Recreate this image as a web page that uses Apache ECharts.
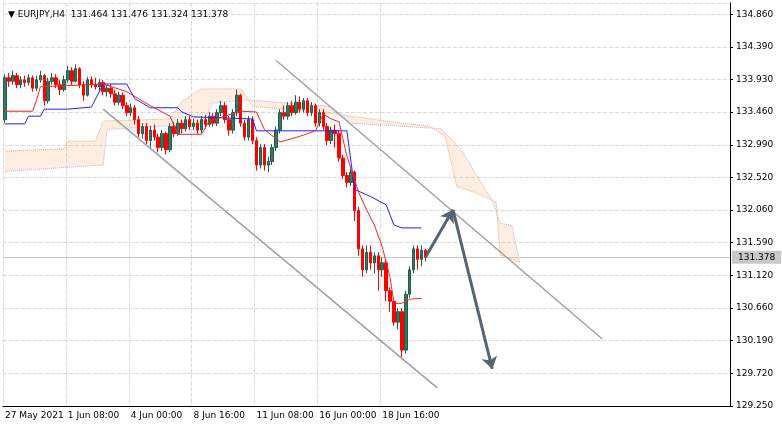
<!DOCTYPE html>
<html><head><meta charset="utf-8">
<script src="https://cdn.jsdelivr.net/npm/echarts@6/dist/echarts.min.js"></script>
<style>html,body{margin:0;padding:0;background:#fff}#c{width:782px;height:428px}</style>
</head><body><div id="c"></div>
<script>
const yTickLabels=['129.250','129.720','130.190','130.660','131.120','131.590','132.060','132.520','132.990','133.460','133.930','134.390','134.860'];
const xTickLabels={0:'27 May 2021',16:'1 Jun 08:00',32:'4 Jun 00:00',48:'8 Jun 16:00',64:'11 Jun 08:00',80:'16 Jun 00:00',96:'18 Jun 16:00'};
const candles=[
[133.35,133.95,133.30,134.00],[133.95,133.90,133.82,134.02],[133.90,133.98,133.85,134.05],[133.98,133.85,133.80,134.02],
[133.85,133.92,133.80,133.97],[133.92,133.88,133.82,133.98],[133.88,133.95,133.84,134.00],[133.95,133.80,133.75,133.98],
[133.80,133.92,133.76,133.98],[133.92,133.98,133.88,134.05],[133.98,133.62,133.55,134.00],[133.62,133.90,133.58,133.95],
[133.90,133.95,133.85,134.02],[133.95,133.85,133.80,134.00],[133.85,133.78,133.70,133.92],[133.78,133.92,133.75,133.98],
[133.92,134.05,133.88,134.12],[134.05,133.90,133.85,134.10],[133.90,134.08,133.88,134.14],[134.08,133.85,133.80,134.10],
[133.85,133.70,133.62,133.90],[133.70,133.92,133.68,133.96],[133.92,133.85,133.80,133.97],[133.85,133.82,133.78,133.95],
[133.82,133.88,133.75,133.93],[133.88,133.75,133.70,133.92],[133.75,133.80,133.68,133.85],[133.80,133.72,133.66,133.86],
[133.72,133.60,133.55,133.78],[133.60,133.70,133.56,133.75],[133.70,133.55,133.50,133.74],[133.55,133.45,133.40,133.60],
[133.45,133.52,133.40,133.58],[133.52,133.35,133.28,133.56],[133.35,133.15,133.10,133.40],[133.15,133.25,133.08,133.30],
[133.25,133.05,133.00,133.30],[133.05,133.20,132.95,133.26],[133.20,133.10,133.05,133.28],[133.10,132.95,132.88,133.15],
[132.95,133.15,132.90,133.20],[133.15,132.92,132.85,133.18],[132.92,133.25,132.88,133.30],[133.25,133.15,133.10,133.32],
[133.15,133.30,133.12,133.36],[133.30,133.22,133.15,133.35],[133.22,133.35,133.18,133.40],[133.35,133.25,133.20,133.40],
[133.25,133.30,133.20,133.36],[133.30,133.20,133.15,133.35],[133.20,133.35,133.16,133.40],[133.35,133.28,133.22,133.42],
[133.28,133.40,133.25,133.46],[133.40,133.30,133.25,133.45],[133.30,133.45,133.26,133.50],[133.45,133.55,133.40,133.62],
[133.55,133.35,133.30,133.60],[133.35,133.20,133.12,133.40],[133.20,133.45,133.15,133.50],[133.45,133.70,133.40,133.78],
[133.70,133.30,133.25,133.72],[133.30,133.10,133.05,133.35],[133.10,133.35,133.05,133.40],[133.35,133.05,133.00,133.40],
[133.05,132.70,132.62,133.10],[132.70,132.95,132.65,133.00],[132.95,132.70,132.62,133.00],[132.70,132.75,132.60,132.82],
[132.75,132.95,132.70,133.00],[132.95,133.20,132.90,133.25],[133.20,133.45,133.15,133.50],[133.45,133.40,133.35,133.55],
[133.40,133.55,133.35,133.60],[133.55,133.45,133.40,133.62],[133.45,133.60,133.42,133.70],[133.60,133.50,133.45,133.68],
[133.50,133.62,133.45,133.66],[133.62,133.45,133.40,133.66],[133.45,133.55,133.40,133.60],[133.55,133.30,133.25,133.58],
[133.30,133.45,133.25,133.50],[133.45,133.25,133.20,133.50],[133.25,133.05,132.98,133.30],[133.05,133.20,133.00,133.25],
[133.20,133.15,132.95,133.28],[133.15,132.80,132.75,133.20],[132.80,132.55,132.50,132.85],[132.55,132.45,132.38,132.60],
[132.45,132.60,132.40,132.65],[132.60,132.05,131.90,132.62],[132.05,131.50,131.40,132.10],[131.50,131.20,131.10,131.55],
[131.20,131.45,131.15,131.55],[131.45,131.30,131.20,131.55],[131.30,131.40,131.15,131.45],[131.40,131.20,130.90,131.45],
[131.20,131.30,131.10,131.38],[131.30,130.90,130.75,131.35],[130.90,130.75,130.60,130.95],[130.75,130.45,130.40,130.80],
[130.45,130.60,130.35,130.65],[130.60,130.05,129.95,130.65],[130.05,130.85,130.00,130.90],[130.85,131.20,130.80,131.25],
[131.20,131.50,131.15,131.55],[131.50,131.35,131.20,131.55],[131.35,131.48,131.25,131.55],[131.48,131.378,131.32,131.50]];
const kijun=[[0,133.29],[5,133.29],[6,133.40],[9,133.40],[10,133.50],[16,133.50],[22,133.53],[25,133.86],[31,133.86],[33,133.65],[37,133.52],[44,133.52],[45,133.46],[48,133.39],[63,133.36],[64,133.19],[87,133.19],[89,132.35],[93,132.25],[97,132.13],[99,131.84],[101,131.80],[106,131.80]];
const tenkan=[[0,133.47],[7,133.47],[8,133.62],[9,133.82],[25,133.86],[31,133.75],[37,133.55],[42,133.40],[44,133.14],[50,133.14],[52,133.33],[60,133.47],[64,133.46],[66,133.21],[70,133.03],[75,133.11],[79,133.19],[81,133.43],[83,133.36],[85,133.32],[87,132.83],[90,132.31],[92,132.06],[94,131.84],[96,131.53],[98,131.09],[99,130.72],[101,130.72],[103,130.78],[106,130.79]];
const spanA=[[0,132.90],[15,132.93],[16,133.04],[23,133.04],[25,133.33],[42,133.36],[45,133.61],[50,133.79],[60,133.79],[63,133.54],[83,133.44],[101,133.30],[108,133.26],[112,133.11],[115,132.39],[119,132.32],[125,132.17],[126,131.41],[131,131.31]];
const spanB=[[0,132.61],[25,132.70],[26,133.21],[50,133.29],[53,133.59],[62,133.63],[83,133.54],[88,133.30],[111,133.22],[116,132.93],[124,132.19],[126,131.87],[129,131.83],[131,131.31]];
const upperChannel=[[69,134.196],[152,130.21]];
const lowerChannel=[[25,133.50],[110,129.51]];
const arrowPath=[[107,131.378],[114,132.06],[124,129.78]];
const lastPrice=131.378;
const N=185;
const cats=[];for(let i=0;i<N;i++)cats.push(i);
const chart=echarts.init(document.getElementById('c'));
chart.setOption({
animation:false,
grid:{left:3,right:52,top:3,bottom:22},
title:{text:'▼ EURJPY,H4  131.464 131.476 131.324 131.378',left:3,top:5,textStyle:{fontSize:9,fontWeight:'normal',color:'#000',fontFamily:'DejaVu Sans'}},
xAxis:{type:'category',data:cats,boundaryGap:true,
 axisLine:{lineStyle:{color:'#000'}},axisTick:{show:false},
 axisLabel:{interval:(i)=>xTickLabels[i]!==undefined,formatter:(v)=>xTickLabels[v]||'',align:'left',fontSize:9,color:'#000',margin:5,fontFamily:'DejaVu Sans'},
 splitLine:{show:true,interval:(i)=>xTickLabels[i]!==undefined,lineStyle:{type:'dashed',color:'#d8d8d8'}}},
yAxis:{type:'value',position:'right',min:129.25,max:135.02,interval:0.4675,
 axisLine:{show:true,lineStyle:{color:'#000'}},axisTick:{show:true,length:3,lineStyle:{color:'#000'}},
 axisLabel:{showMaxLabel:false,fontSize:9,color:'#000',margin:6,fontFamily:'DejaVu Sans',formatter:(v)=>{const k=Math.round((v-129.25)/0.4675);return yTickLabels[k]||'';}},
 splitLine:{lineStyle:{type:'dashed',color:'#d8d8d8'}}},
series:[
{type:'custom',renderItem:(p,api)=>{const pts=spanA.map(d=>api.coord(d)).concat(spanB.slice().reverse().map(d=>api.coord(d)));
 return {type:'polygon',shape:{points:pts},style:{fill:'rgba(246,178,120,0.22)'}};},data:[0],silent:true,z:1},
{type:'line',data:spanA,showSymbol:false,lineStyle:{color:'#f5a46a',width:1,type:'dotted'},z:2},
{type:'line',data:spanB,showSymbol:false,lineStyle:{color:'#c8a8d8',width:1,type:'dotted'},z:2},
{type:'candlestick',data:candles,barWidth:3,
 itemStyle:{color:'#2e7d5e',color0:'#ff0000',borderColor:'#25594a',borderColor0:'#ff0000',borderWidth:1},z:5,
 markLine:{symbol:'none',silent:true,data:[{yAxis:lastPrice}],lineStyle:{color:'#c8c8c8',width:1,type:'solid'},
  label:{show:true,position:'end',formatter:'131.378',backgroundColor:'#c8c8c8',color:'#000',fontSize:9,padding:[2,6],distance:2,fontFamily:'DejaVu Sans'}}},
{type:'line',data:kijun,showSymbol:false,lineStyle:{color:'#2020ff',width:1},z:6},
{type:'line',data:tenkan,showSymbol:false,lineStyle:{color:'#ff2020',width:1},z:6},
{type:'line',data:upperChannel,showSymbol:false,lineStyle:{color:'#a0a0a0',width:1.5},z:7},
{type:'line',data:lowerChannel,showSymbol:false,lineStyle:{color:'#a0a0a0',width:1.5},z:7},
{type:'lines',coordinateSystem:'cartesian2d',symbol:['none','arrow'],symbolSize:12,silent:true,z:8,
 lineStyle:{color:'#546470',width:3,opacity:1},
 data:[{coords:[arrowPath[0],arrowPath[1]]},{coords:[arrowPath[1],arrowPath[2]]}]}
]});
</script></body></html>
